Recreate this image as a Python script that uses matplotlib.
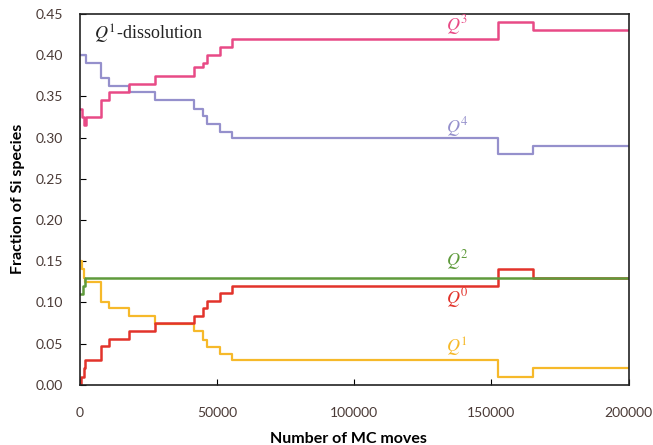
import numpy as np
import matplotlib
matplotlib.use('Agg')
import matplotlib.pyplot as plt

# step positions (MC moves) and fraction values for each Q species
x_q3 = [0, 800, 1500, 2200, 7500, 10600, 17800, 27200, 41400, 44900, 46300, 50900, 55300, 152500, 165000, 200000]
q3 = [0.335, 0.325, 0.315, 0.325, 0.345, 0.355, 0.365, 0.375, 0.385, 0.39, 0.40, 0.41, 0.42, 0.44, 0.43, 0.43]

x_q4 = [0, 2200, 7500, 10600, 17800, 27200, 41400, 44900, 46300, 50900, 55300, 152500, 165000, 200000]
q4 = [0.40, 0.39, 0.372, 0.362, 0.355, 0.345, 0.335, 0.326, 0.316, 0.307, 0.30, 0.28, 0.29, 0.29]

x_q2 = [0, 1000, 1800, 200000]
q2 = [0.11, 0.12, 0.13, 0.13]

x_q1 = [0, 800, 1300, 1800, 7500, 10600, 17800, 27200, 41400, 44900, 46300, 50900, 55300, 152500, 165000, 200000]
q1 = [0.15, 0.14, 0.13, 0.125, 0.101, 0.093, 0.083, 0.074, 0.065, 0.055, 0.046, 0.037, 0.03, 0.01, 0.02, 0.02]

x_q0 = [0, 400, 1300, 2000, 7500, 10600, 17800, 27200, 41400, 44900, 46300, 50900, 55300, 152500, 165000, 200000]
q0 = [0.0, 0.01, 0.02, 0.03, 0.047, 0.056, 0.065, 0.075, 0.084, 0.093, 0.102, 0.111, 0.12, 0.14, 0.13, 0.13]

xticks = [0, 50000, 100000, 150000, 200000]
yticks = [0.00, 0.05, 0.10, 0.15, 0.20, 0.25, 0.30, 0.35, 0.40, 0.45]

c_q3 = '#e84a86'
c_q4 = '#9590cc'
c_q2 = '#5f9b3c'
c_q0 = '#e2332b'
c_q1 = '#f6b92a'

fig = plt.figure(figsize=(6.53, 4.45), dpi=100)
ax = fig.add_axes([0.1225, 0.135, 0.84, 0.834])

ax.step(x_q4, q4, where='post', color=c_q4, lw=1.6)
ax.step(x_q3, q3, where='post', color=c_q3, lw=1.8)
ax.step(x_q1, q1, where='post', color=c_q1, lw=1.6)
ax.step(x_q0, q0, where='post', color=c_q0, lw=1.8)
ax.step(x_q2, q2, where='post', color=c_q2, lw=1.8)

ax.set_xlim(0, 200000)
ax.set_ylim(0, 0.45)
ax.set_xticks(xticks)
ax.set_xticklabels([str(t) for t in xticks])
ax.set_yticks(yticks)
ax.set_yticklabels(['%.2f' % t for t in yticks])
ax.tick_params(direction='in', length=4, labelsize=10, labelcolor='#4a3a36')
ax.tick_params(axis='x', pad=16)
ax.tick_params(axis='y', pad=12)
for lab in ax.get_xticklabels() + ax.get_yticklabels():
    lab.set_family('Lato')

for s in ax.spines.values():
    s.set_linewidth(1.2)
    s.set_color('#222222')

ax.set_xlabel('Number of MC moves', fontsize=11.5, fontweight='bold', family='Lato')
ax.set_ylabel('Fraction of Si species', fontsize=11.5, fontweight='bold', family='Lato')
ax.xaxis.set_label_coords(0.49, -0.127)
ax.yaxis.set_label_coords(-0.1, 0.5)

serif = 'Liberation Serif'
ax.text(5000, 0.425, r'$\mathit{Q}^{1}$-dissolution', fontsize=13, family=serif,
        math_fontfamily='stix', va='center', ha='left', color='#222222')
labels = [(r'$Q^{3}$', 0.436, c_q3), (r'$Q^{4}$', 0.313, c_q4), (r'$Q^{2}$', 0.151, c_q2),
          (r'$Q^{0}$', 0.105, c_q0), (r'$Q^{1}$', 0.045, c_q1)]
for txt, yv, col in labels:
    ax.text(137500, yv, txt, fontsize=13, color=col, ha='center', va='center', math_fontfamily='stix')

fig.savefig('out.png', dpi=100)
